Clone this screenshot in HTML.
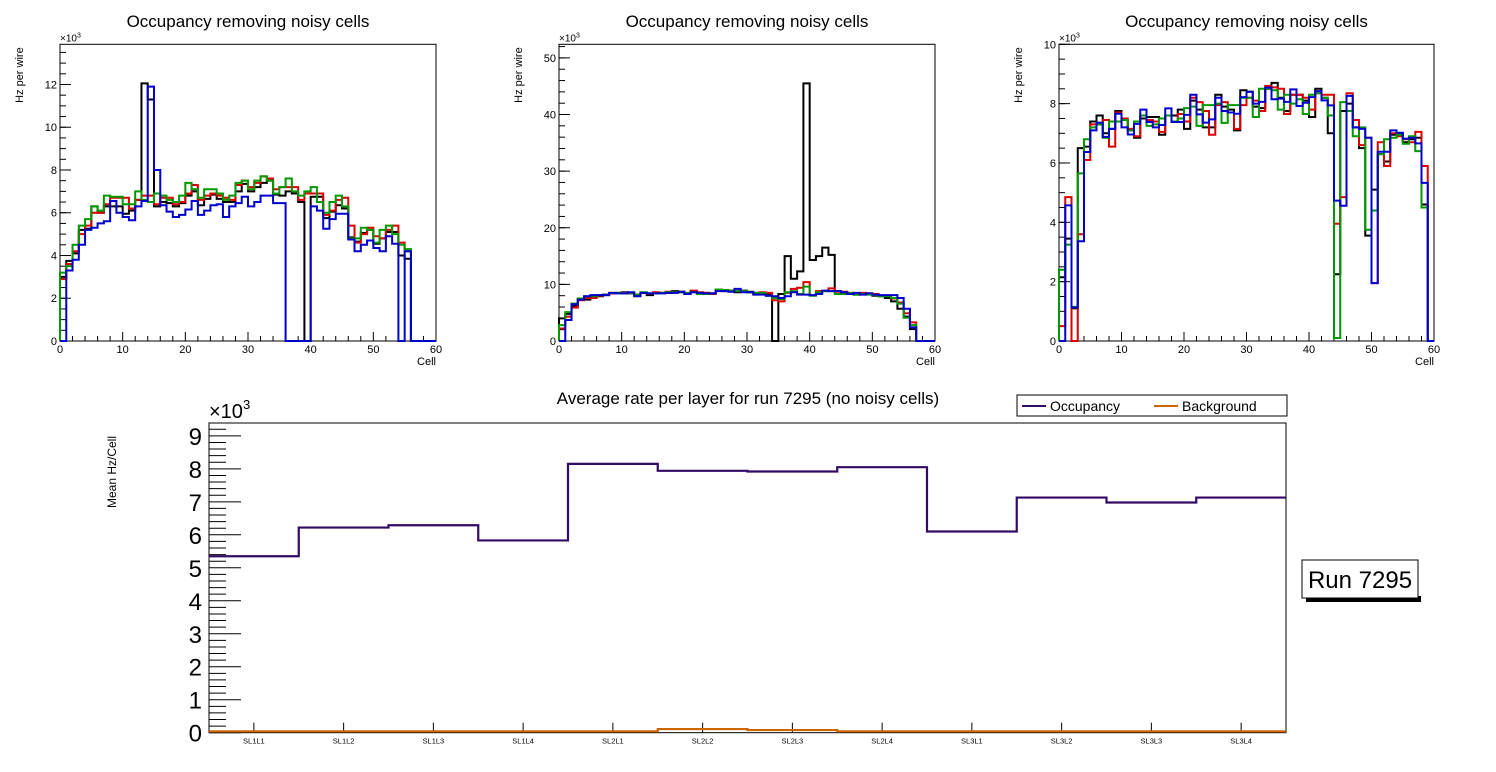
<!DOCTYPE html>
<html><head><meta charset="utf-8"><style>
html,body{margin:0;padding:0;background:#fff;}
svg{display:block;font-family:"Liberation Sans",sans-serif;}
</style></head><body>
<svg id="cv" width="1496" height="772" viewBox="0 0 1496 772" xmlns="http://www.w3.org/2000/svg"></svg>
<script>
// ---- Panel 1 data (x10^3 Hz per wire), 60 cells
const p1Black=[3.0,3.75,4.1,5.2,5.25,6.3,6.0,6.3,6.3,6.3,5.95,6.1,6.6,12.05,11.3,6.3,6.5,6.45,6.3,6.45,6.8,7.0,6.35,6.65,6.85,6.65,6.5,6.5,7.0,7.35,7.0,7.2,7.4,7.5,6.85,6.8,7.0,6.9,6.5,0,6.75,6.75,5.75,6.05,6.35,6.2,4.85,4.65,5.05,5.2,4.55,4.8,5.1,5.1,4.0,3.85,0,0,0,0];
const p1Red=[2.9,3.6,4.2,5.0,5.4,6.0,6.0,6.4,6.7,6.7,6.7,6.2,6.6,6.8,6.8,6.4,6.7,6.7,6.4,6.5,6.9,7.3,6.6,6.8,6.9,6.8,6.7,6.6,7.3,7.5,7.2,7.4,7.7,7.6,7.1,7.2,7.2,7.2,6.6,6.9,6.9,6.9,5.9,6.1,6.6,6.7,5.4,4.6,5.0,5.3,4.9,4.8,5.2,5.4,4.6,4.2,0,0,0,0];
const p1Green=[3.2,3.5,4.5,5.4,5.7,6.3,6.1,6.8,6.75,6.75,6.4,6.4,7.0,6.6,6.5,6.9,6.8,6.6,6.5,6.8,7.4,7.1,6.7,7.1,7.1,6.9,6.6,6.8,7.4,7.5,7.1,7.5,7.7,7.5,6.9,7.2,7.6,7.0,6.8,7.0,7.2,6.5,6.0,6.5,6.8,6.3,4.8,4.8,5.3,5.2,4.6,5.2,5.4,5.0,4.5,4.3,0,0,0,0];
const p1Blue=[0,3.3,3.8,4.5,5.2,5.3,5.5,5.6,6.55,6.0,5.8,5.65,6.3,6.55,11.9,8.0,6.35,6.05,5.8,5.9,6.15,6.55,5.9,6.1,6.35,6.4,5.8,6.3,6.45,6.75,6.3,6.5,6.8,6.8,6.45,6.45,0,0,0,0,6.3,6.1,5.25,5.7,5.95,5.95,4.75,4.2,4.5,4.7,4.35,4.2,4.9,4.55,0,4.2,0,0,0,0];
// ---- Panel 2 data
const p2Black=[4,4.8,6.2,7.4,7.3,7.7,7.9,8.2,8.4,8.5,8.6,8.4,8.2,8.5,8.1,8.5,8.5,8.5,8.8,8.6,8.4,8.8,8.5,8.5,8.4,8.9,8.9,8.9,8.6,8.9,8.7,8.5,8.5,8.3,0,8.3,15,11,12.3,45.5,14.3,15,16.5,15.2,8.8,8.5,8.4,8.2,8.4,8.4,8.0,7.9,7.6,7.0,5.7,4.3,2.1,0,0,0];
const p2Red=[2.2,4.3,5.9,7.2,7.6,7.6,8.0,8.1,8.4,8.5,8.5,8.5,8.1,8.5,8.4,8.6,8.5,8.7,8.6,8.7,8.4,8.9,8.6,8.5,8.3,8.9,8.8,8.9,8.8,8.8,8.6,8.4,8.6,8.5,7.2,7.0,8.5,9.2,9.4,10.4,8.1,8.8,8.8,9.3,8.7,8.7,8.5,8.3,8.5,8.4,8.3,8.0,8.0,7.5,6.8,4.9,3.3,0,0,0];
const p2Green=[2.8,5.1,6.6,7.5,7.9,7.9,8.1,8.1,8.5,8.5,8.4,8.5,8.2,8.6,8.4,8.4,8.5,8.6,8.6,8.7,8.5,8.6,8.3,8.3,8.4,9.1,9.0,8.9,8.8,8.8,8.6,8.5,8.5,8.0,7.6,7.4,8.6,8.8,8.3,9.6,8.0,8.6,8.8,8.8,8.3,8.3,8.5,8.2,8.3,8.2,8.1,7.9,7.9,7.6,6.6,4.1,2.8,0,0,0];
const p2Blue=[0,3.7,6.5,7.3,7.9,8.1,8.1,8.1,8.5,8.4,8.4,8.6,7.9,8.5,8.4,8.4,8.4,8.5,8.5,8.7,8.3,8.6,8.5,8.4,8.4,8.8,8.8,8.7,9.2,8.6,8.6,8.2,8.2,8.0,7.9,7.6,7.9,8.6,8.2,8.2,8.1,8.3,8.9,8.8,8.8,8.6,8.3,8.5,8.2,8.4,8.2,8.1,8.1,8.1,7.6,5.7,2.4,0,0,0];
// ---- Panel 3 data
const p3Black=[2.15,3.45,1.1,6.5,6.55,7.4,7.6,7.0,7.15,7.75,7.45,7.1,6.85,7.5,7.55,7.55,6.95,7.6,7.6,7.8,7.15,8.1,7.8,7.2,7.2,8.3,7.9,7.8,7.1,8.45,8.4,7.9,7.85,8.5,8.7,8.2,7.75,8.3,8.3,8.1,7.55,8.5,8.2,7.0,2.25,7.75,8.0,7.2,6.5,3.55,5.1,6.3,6.05,6.95,7.0,6.7,6.8,6.85,4.6,0];
const p3Red=[0.5,4.85,0,3.6,6.1,7.3,7.3,7.45,6.55,7.7,7.5,7.15,6.9,7.6,7.45,7.4,7.05,7.6,7.4,7.65,7.4,8.2,8.05,7.75,6.95,7.95,8.05,7.7,7.15,7.95,8.2,8.1,7.75,8.6,8.55,8.5,7.65,8.3,8.3,8.2,7.8,8.35,8.3,8.3,3.95,4.85,8.35,7.45,6.6,6.85,1.95,6.7,5.9,7.0,6.9,6.8,6.7,7.05,5.9,0];
const p3Green=[2.4,3.25,1.15,5.65,6.8,7.2,7.3,6.85,7.4,7.4,7.45,7.1,7.4,7.6,7.25,7.3,7.5,7.6,7.4,7.5,7.85,7.9,7.25,7.95,7.95,8.0,7.35,7.95,7.95,8.2,8.2,7.55,8.5,8.5,8.45,7.8,8.3,8.0,8.15,7.65,8.3,8.35,8.2,7.6,0.1,8.05,7.75,6.9,7.2,3.75,4.4,6.3,6.8,6.85,6.95,6.65,6.9,6.4,4.5,0];
const p3Blue=[0,4.57,1.13,3.36,6.37,7.1,7.36,6.88,7.15,7.66,7.2,6.96,7.32,7.8,7.38,7.2,7.28,7.84,7.38,7.38,7.62,8.3,7.64,7.36,7.47,8.2,7.75,7.7,7.66,8.22,8.4,8.0,8.06,8.54,8.15,8.17,8.06,8.48,7.92,8.03,8.22,8.42,8.11,7.94,4.73,4.56,8.26,7.2,7.15,6.85,1.95,6.38,6.38,7.1,7.02,6.82,6.85,6.66,5.33,0];
// ---- Bottom chart data
const layers=["SL1L1","SL1L2","SL1L3","SL1L4","SL2L1","SL2L2","SL2L3","SL2L4","SL3L1","SL3L2","SL3L3","SL3L4"];
const occupancy=[5.35,6.22,6.29,5.83,8.15,7.94,7.92,8.05,6.1,7.13,6.98,7.13];
const background=[0.04,0.04,0.04,0.04,0.04,0.11,0.08,0.04,0.04,0.04,0.04,0.04];
const p1YTicks=[0,2,4,6,8,10,12];
const p2YTicks=[0,10,20,30,40,50];
const p3YTicks=[0,2,4,6,8,10];
const xTicks=[0,10,20,30,40,50,60];
const bYTicks=[0,1,2,3,4,5,6,7,8,9];

const NS="http://www.w3.org/2000/svg";
const svg=document.getElementById('cv');
function mk(tag,attrs,parent){const e=document.createElementNS(NS,tag);for(const k in attrs)e.setAttribute(k,attrs[k]);(parent||svg).appendChild(e);return e;}
function txt(s,attrs,parent){const e=mk('text',attrs,parent);e.textContent=s;return e;}

function topPanel(id,x0,x1,yT,yB,ymax,yTicks,yMinor,series,title){
  const g=mk('g',{});
  
  
  const X=v=>x0+(x1-x0)*v/60, Y=v=>yB-(yB-yT)*v/ymax;
  const t=txt(title,{x:(x0+x1)/2,y:27,'font-size':17,'text-anchor':'middle'},g);
  
  const fr=mk('rect',{x:x0,y:yT,width:x1-x0,height:yB-yT,fill:'none',stroke:'#000','stroke-width':1},g);
  
  // y minor ticks
  for(let v=0;v<=ymax+1e-9;v+=yMinor){mk('line',{x1:x0,x2:x0+6,y1:Y(v),y2:Y(v),stroke:'#000'},g);}
  yTicks.forEach(v=>{if(v>ymax+1e-9)return;mk('line',{x1:x0,x2:x0+11,y1:Y(v),y2:Y(v),stroke:'#000'},g);
    const l=txt(String(v),{x:x0-3,y:Y(v)+4,'font-size':11,'text-anchor':'end'},g);
    });
  for(let v=0;v<=60;v+=2){mk('line',{x1:X(v),x2:X(v),y1:yB,y2:yB-(v%10===0?9:5),stroke:'#000'},g);}
  xTicks.forEach(v=>{const l=txt(String(v),{x:X(v),y:yB+12,'font-size':11,'text-anchor':'middle'},g);
    });
  const xl=txt('Cell',{x:x1,y:yB+24,'font-size':11,'text-anchor':'end'},g);
  
  const yl=txt('Hz per wire',{x:0,y:0,'font-size':11,'text-anchor':'end',transform:`translate(${x0-37},${yT+3}) rotate(-90)`},g);
  
  const ex=txt('×10',{x:x0,y:yT-3,'font-size':10},g);
  const sup=mk('tspan',{dy:-4,'font-size':7},ex);sup.textContent='3';
  
  series.forEach(([vals,col,name])=>{
    let d=`M${X(0)},${Y(0)}`;
    vals.forEach((v,i)=>{d+=`L${X(i)},${Y(v)}L${X(i+1)},${Y(v)}`;});
    d+=`L${X(60)},${Y(0)}`;
    const p=mk('path',{d:d,fill:'none',stroke:col,'stroke-width':2},g);
    
  });
}
topPanel('occupancy-panel-1',60,436,44.3,341,13.88,p1YTicks,0.5,[[p1Black,'#000','series-black'],[p1Red,'#d00','series-red'],[p1Green,'#090','series-green'],[p1Blue,'#00c','series-blue']],'Occupancy removing noisy cells');
topPanel('occupancy-panel-2',559,935,44.3,341,52.4,p2YTicks,2,[[p2Black,'#000','series-black'],[p2Red,'#d00','series-red'],[p2Green,'#090','series-green'],[p2Blue,'#00c','series-blue']],'Occupancy removing noisy cells');
topPanel('occupancy-panel-3',1059,1434,44.3,341,10,p3YTicks,0.5,[[p3Black,'#000','series-black'],[p3Red,'#d00','series-red'],[p3Green,'#090','series-green'],[p3Blue,'#00c','series-blue']],'Occupancy removing noisy cells');

// ---- bottom chart
(function(){
  const x0=209,x1=1286,yT=423,yB=732.7,ymax=9.39,n=layers.length;
  const g=mk('g',{});
  
  
  const X=i=>x0+(x1-x0)*i/n, Y=v=>yB-(yB-yT)*v/ymax;
  const t=txt('Average rate per layer for run 7295 (no noisy cells)',{x:748,y:404,'font-size':17,'text-anchor':'middle'},g);
  
  const fr=mk('rect',{x:x0,y:yT,width:x1-x0,height:yB-yT,fill:'none',stroke:'#000'},g);
  
  for(let k=0;k*0.2<=ymax;k++){const v=k*0.2;mk('line',{x1:x0,x2:x0+(k%5===0?32:17),y1:Y(v),y2:Y(v),stroke:'#000'},g);}
  bYTicks.forEach(v=>{const l=txt(String(v),{x:x0-7,y:Y(v)+9,'font-size':24,'text-anchor':'end'},g);
    });
  layers.forEach((s,i)=>{const cx=(X(i)+X(i+1))/2;mk('line',{x1:cx,x2:cx,y1:yB,y2:yB-10,stroke:'#000'},g);
    const l=txt(s,{x:cx,y:yB+11,'font-size':7.5,'text-anchor':'middle'},g);
    });
  const yl=txt('Mean Hz/Cell',{x:0,y:0,'font-size':12,'text-anchor':'middle',transform:`translate(116,472) rotate(-90)`},g);
  
  const ex=txt('×10',{x:x0,y:yT-5,'font-size':20},g);
  const sup=mk('tspan',{dy:-9,'font-size':13},ex);sup.textContent='3';
  
  function step(vals,col,name){
    let d='';
    vals.forEach((v,i)=>{d+=(i===0?'M':'L')+`${X(i)},${Y(v)}L${X(i+1)},${Y(v)}`;});
    const p=mk('path',{d:d,fill:'none',stroke:col,'stroke-width':2.2},g);
    
  }
  step(background,'#cc6600','background-line');
  step(occupancy,'#330a66','occupancy-line');
  // legend
  const lg=mk('g',{},g);
  
  mk('rect',{x:1017,y:395,width:270,height:21,fill:'#fff',stroke:'#000'},lg);
  mk('line',{x1:1022,x2:1046,y1:406,y2:406,stroke:'#330a66','stroke-width':2},lg);
  const a=txt('Occupancy',{x:1050,y:411,'font-size':14},lg);
  
  mk('line',{x1:1154,x2:1178,y1:406,y2:406,stroke:'#cc6600','stroke-width':2},lg);
  const b=txt('Background',{x:1182,y:411,'font-size':14},lg);
  
  // run box
  const rb=mk('g',{});
  
  mk('rect',{x:1306,y:596,width:115,height:6,fill:'#000'},rb);
  mk('rect',{x:1302,y:560,width:116,height:38,fill:'#fff',stroke:'#000'},rb);
  const r=txt('Run 7295',{x:1360,y:588,'font-size':24,'text-anchor':'middle'},rb);
  
})();
</script>
</body></html>
